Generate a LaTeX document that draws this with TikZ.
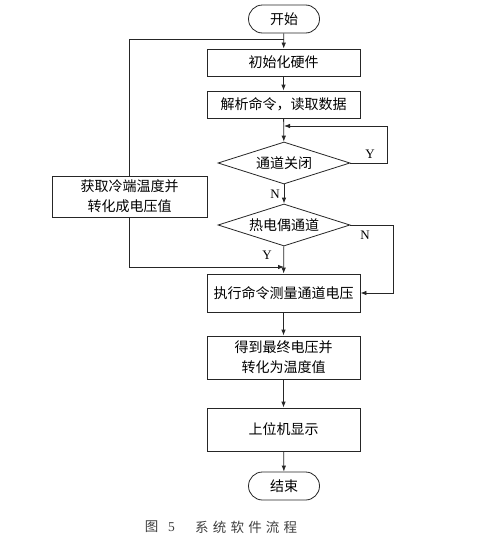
\documentclass[tikz,border=0pt]{standalone}
\usepackage{fontspec}
\setmainfont{Liberation Serif}
\newfontfamily\cjk{Noto Sans CJK SC}
\usetikzlibrary{shapes.geometric,arrows.meta}
\begin{document}
\begin{tikzpicture}[x=1pt,y=-1pt,
  line/.style={draw=black!85,line width=0.8pt},
  arr/.style={line,-{Latex[length=6pt,width=4.5pt]}},
  box/.style={line,rectangle,inner sep=0pt,align=center,font=\cjk\fontsize{14}{20}\selectfont},
  term/.style={box,rounded corners=14pt,minimum width=71pt,minimum height=28pt},
  dec/.style={line,diamond,aspect=3,inner sep=0pt,minimum width=132pt,minimum height=42pt,font=\cjk\fontsize{14}{20}\selectfont},
  lab/.style={font=\fontsize{13}{15}\selectfont,inner sep=0pt},
  captxt/.style={font=\cjk\fontsize{13.5}{15}\selectfont,text=black!75,inner sep=0pt}]
\useasboundingbox (0,0) rectangle (489,541);
\fill[white] (0,0) rectangle (489,541);
\node[term] (start) at (284,19) {开始};
\node[box,minimum width=153pt,minimum height=27pt] (init) at (283.5,62.5) {初始化硬件};
\node[box,minimum width=153pt,minimum height=27pt] (parse) at (283.5,104.5) {解析命令，读取数据};
\node[dec] (d1) at (284,163) {通道关闭};
\node[dec] (d2) at (284,225) {热电偶通道};
\node[box,minimum width=155pt,minimum height=41pt] (left) at (129.5,196.5) {获取冷端温度并\\转化成电压值};
\node[box,minimum width=153pt,minimum height=38pt] (exec) at (283.5,293) {执行命令测量通道电压};
\node[box,minimum width=153pt,minimum height=43pt] (res) at (283.5,357.5) {得到最终电压并\\转化为温度值};
\node[box,minimum width=153pt,minimum height=43pt] (disp) at (283.5,429.5) {上位机显示};
\node[term] (end) at (284,486) {结束};

\coordinate (j1) at (284,39);
\coordinate (j2) at (284,267);
\coordinate (j3) at (284,126);

\draw[arr] (start) -- (init);
\draw[line] (left.north) |- (j1);
\draw[arr] (init) -- (parse);
\draw[arr] (parse) -- (d1);
\draw[arr] (d1.east) -- ++(37,0) |- (j3);
\draw[arr] (d1) -- (d2);
\draw[arr] (d2) -- (exec);
\draw[arr] (d2.east) -- ++(43,0) |- (exec.east);
\draw[arr] (left.south) |- (j2);
\draw[arr] (exec) -- (res);
\draw[arr] (res) -- (disp);
\draw[arr] (disp) -- (end);

\node[lab] (y1) at (370,154) {Y};
\node[lab] (n1) at (275,194) {N};
\node[lab] (n2) at (365,235) {N};
\node[lab] (y2) at (267,255) {Y};

\node[captxt] (c1) at (151.5,527) {图};
\node[captxt,font=\fontsize{13.5}{15}\selectfont] (c2) at (171.5,527) {5};
\node[captxt,anchor=west] (c3) at (195,527) {系\hspace{4.2pt}统\hspace{4.2pt}软\hspace{4.2pt}件\hspace{4.2pt}流\hspace{4.2pt}程};
\end{tikzpicture}
\end{document}
